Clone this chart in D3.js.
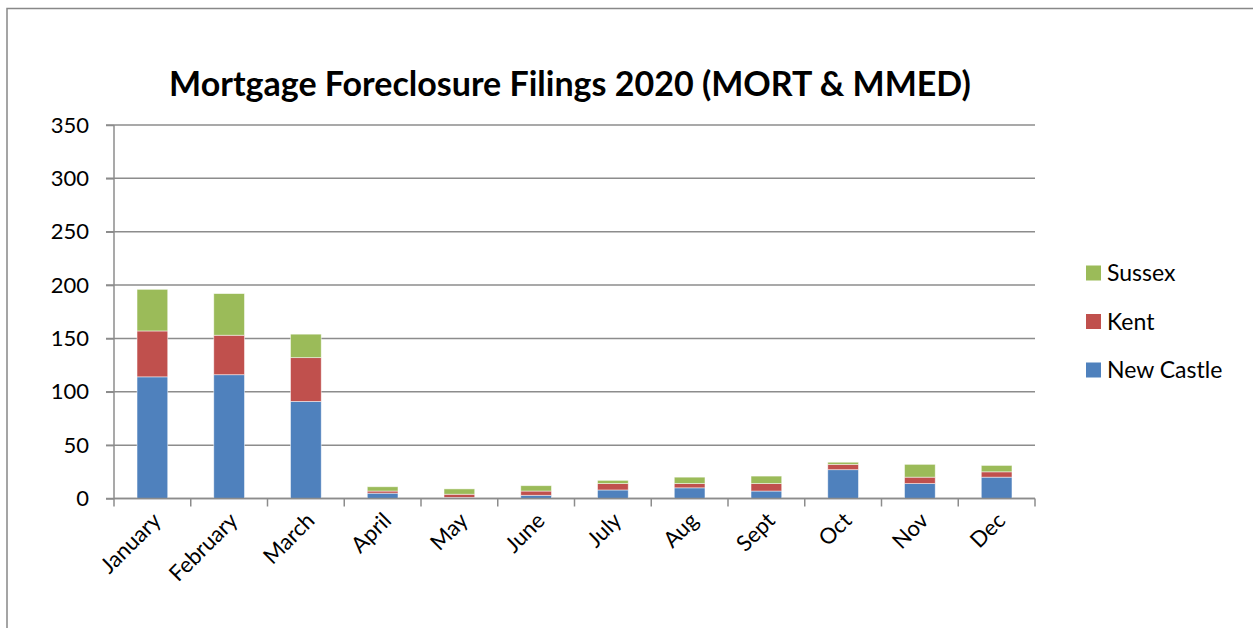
<!DOCTYPE html>
<html><head><meta charset="utf-8">
<script src="https://cdn.jsdelivr.net/npm/d3@7"></script>
<style>body{margin:0;background:#fff}svg{display:block}text{font-family:Lato,"Open Sans",sans-serif;fill:#000}</style>
</head><body><svg id="c" width="1253" height="628"></svg>
<script>
const months = ["January","February","March","April","May","June","July","Aug","Sept","Oct","Nov","Dec"];
const newCastle = [114,116,91,5,1,3,8,10,7,27,14,20];
const kent = [43,37,41,2,3,4,6,4,7,5,6,5];
const sussex = [39,39,22,4,5,5,3,6,7,2,12,6];
const seriesNames = ["New Castle","Kent","Sussex"];
const seriesColors = ["#4F81BD","#C0504D","#9BBB59"];
const yTicks = [0,50,100,150,200,250,300,350];
const title = "Mortgage Foreclosure Filings 2020 (MORT & MMED)";

const svg = d3.select("#c");
svg.append("rect").attr("x",7).attr("y",8.5).attr("width",1300).attr("height",700)
  .attr("fill","none").attr("stroke","#888").attr("stroke-width",1.5);

const x = d3.scaleBand().domain(months).range([114,1035]).paddingInner(0.6).paddingOuter(0.3);
const y = d3.scaleLinear().domain([0,350]).range([498.5,125]);

// gridlines
svg.append("g").selectAll("line").data(yTicks).join("line")
  .attr("x1",106).attr("x2",1035).attr("y1",d=>y(d)).attr("y2",d=>y(d))
  .attr("stroke","#8c8c8c").attr("stroke-width",1.5);

const rows = months.map((m,i)=>({month:m,"New Castle":newCastle[i],"Kent":kent[i],"Sussex":sussex[i]}));
const stack = d3.stack().keys(seriesNames)(rows);
svg.append("g").selectAll("g").data(stack).join("g")
  .attr("fill",(d,i)=>seriesColors[i])
  .selectAll("rect").data(d=>d).join("rect")
  .attr("x",d=>x(d.data.month)).attr("width",x.bandwidth())
  .attr("y",d=>y(d[1])).attr("height",d=>y(d[0])-y(d[1]))
  .attr("stroke","rgba(255,255,255,0.6)").attr("stroke-width",0.8);

// y axis
const ya = svg.append("g").attr("transform","translate(114,0)")
  .call(d3.axisLeft(y).tickValues(yTicks).tickSize(8).tickPadding(17));
ya.select(".domain").attr("stroke","#8c8c8c").attr("stroke-width",1.5).attr("d","M0,125V498.5");
ya.selectAll(".tick line").attr("stroke","#8c8c8c").attr("stroke-width",1.5);
ya.selectAll("text").attr("font-size",22).attr("font-family","Lato,sans-serif");

// x axis
const xa = svg.append("g").attr("transform","translate(0,498.5)")
  .call(d3.axisBottom(x).tickSize(0).tickFormat(""));
xa.select(".domain").attr("stroke","#8c8c8c").attr("stroke-width",1.5).attr("d","M114,0H1035");
const step = x.step();
const tickXs = d3.range(months.length+1).map(i=>114+i*step);
xa.selectAll(".xt").data(tickXs).join("line").attr("class","xt")
  .attr("x1",d=>d).attr("x2",d=>d).attr("y1",0).attr("y2",8)
  .attr("stroke","#8c8c8c").attr("stroke-width",1.5);
svg.append("g").selectAll("text").data(months).join("text")
  .attr("transform",d=>`translate(${x(d)+x.bandwidth()/2+10},${522}) rotate(-45)`)
  .attr("text-anchor","end").attr("font-size",22).text(d=>d);

// title
svg.append("text").attr("x",570).attr("y",96).attr("text-anchor","middle")
  .attr("font-size",34).attr("font-weight","bold").text(title);

// legend
const legendOrder = [2,1,0];
const lg = svg.append("g").selectAll("g").data(legendOrder).join("g")
  .attr("transform",(d,i)=>`translate(1086,${273+i*48.5})`);
lg.append("rect").attr("x",0).attr("y",-7.5).attr("width",15).attr("height",15).attr("fill",d=>seriesColors[d]);
lg.append("text").attr("x",21).attr("y",0).attr("dy","0.36em").attr("font-size",23).text(d=>seriesNames[d]);
</script></body></html>
